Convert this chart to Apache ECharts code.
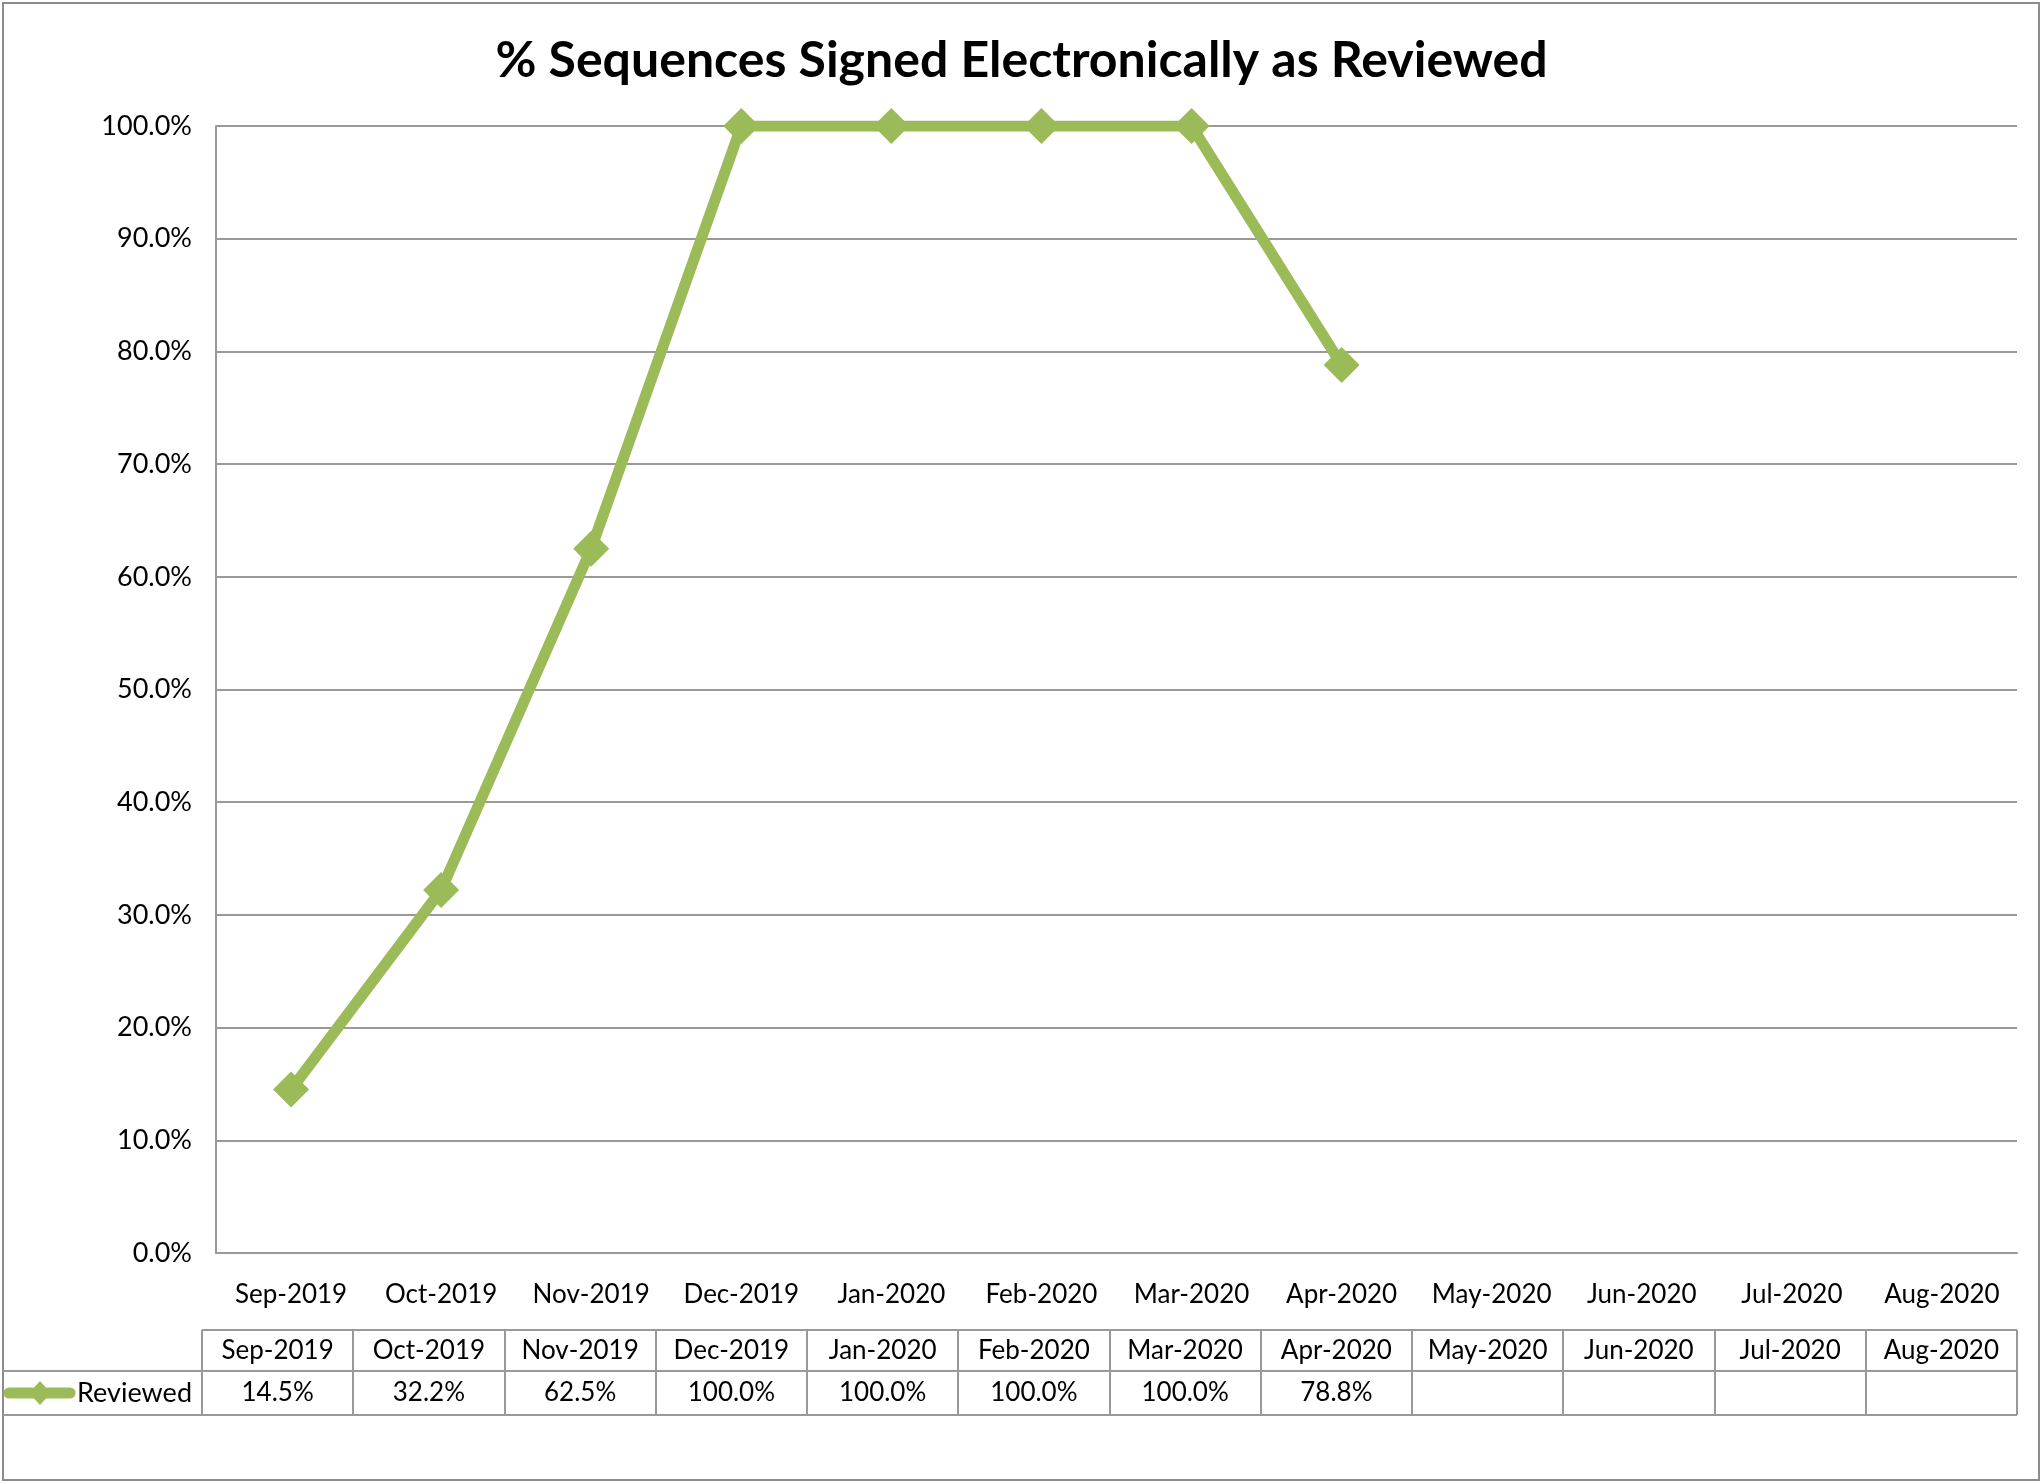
<!DOCTYPE html>
<html>
<head>
<meta charset="utf-8">
<script src="https://cdn.jsdelivr.net/npm/echarts@6/dist/echarts.min.js"></script>
<style>
  html, body { margin: 0; padding: 0; background: #fff; }
  #chart { width: 2043px; height: 1484px; }
</style>
</head>
<body>
<div id="chart"></div>
<script>
var months = ["Sep-2019", "Oct-2019", "Nov-2019", "Dec-2019", "Jan-2020", "Feb-2020",
  "Mar-2020", "Apr-2020", "May-2020", "Jun-2020", "Jul-2020", "Aug-2020"];
var reviewed = [14.5, 32.2, 62.5, 100.0, 100.0, 100.0, 100.0, 78.8, null, null, null, null];
var seriesName = "Reviewed";

var FONT = "Lato";
var GREEN = "#9BBB59";
var GRAY = "#999999";

var myChart = echarts.init(document.getElementById("chart"));

// data table under the chart
var tbl = { left: 202, right: 2017, top: 1330, mid: 1371, bottom: 1415 };
var colW = (tbl.right - tbl.left) / months.length;
var graphics = [];

// outer border
graphics.push({
  type: "rect",
  shape: { x: 3, y: 3, width: 2036, height: 1477 },
  style: { fill: null, stroke: "#8c8c8c", lineWidth: 2 }
});
// horizontal lines
graphics.push({ type: "line", shape: { x1: tbl.left, y1: tbl.top, x2: tbl.right, y2: tbl.top }, style: { stroke: GRAY, lineWidth: 2 } });
graphics.push({ type: "line", shape: { x1: 3, y1: tbl.mid, x2: tbl.right, y2: tbl.mid }, style: { stroke: GRAY, lineWidth: 2 } });
graphics.push({ type: "line", shape: { x1: 3, y1: tbl.bottom, x2: tbl.right, y2: tbl.bottom }, style: { stroke: GRAY, lineWidth: 2 } });
// vertical lines
for (var i = 0; i <= months.length; i++) {
  var x = Math.round(tbl.left + i * colW);
  graphics.push({ type: "line", shape: { x1: x, y1: tbl.top, x2: x, y2: tbl.bottom }, style: { stroke: GRAY, lineWidth: 2 } });
}
// cell texts
for (var j = 0; j < months.length; j++) {
  var cx = tbl.left + (j + 0.5) * colW;
  graphics.push({
    type: "text",
    style: { x: cx, y: (tbl.top + tbl.mid) / 2, text: months[j], fill: "#000", font: "26px " + FONT, textAlign: "center", textVerticalAlign: "middle" }
  });
  if (reviewed[j] != null) {
    graphics.push({
      type: "text",
      style: { x: cx, y: (tbl.mid + tbl.bottom) / 2, text: reviewed[j].toFixed(1) + "%", fill: "#000", font: "26px " + FONT, textAlign: "center", textVerticalAlign: "middle" }
    });
  }
}
// legend key inside the table
var ky = (tbl.mid + tbl.bottom) / 2;
graphics.push({ type: "line", shape: { x1: 9, y1: ky, x2: 70, y2: ky }, style: { stroke: GREEN, lineWidth: 11, lineCap: "round" } });
graphics.push({ type: "polygon", shape: { points: [[40, ky - 12], [51, ky], [40, ky + 12], [29, ky]] }, style: { fill: GREEN } });
graphics.push({
  type: "text",
  style: { x: 192, y: ky, text: seriesName, fill: "#000", font: "27px " + FONT, textAlign: "right", textVerticalAlign: "middle" }
});

myChart.setOption({
  animation: false,
  backgroundColor: "#fff",
  title: {
    text: "% Sequences Signed Electronically as Reviewed",
    left: "center",
    top: 31,
    textStyle: { color: "#000", fontFamily: FONT, fontWeight: "bold", fontSize: 50 }
  },
  grid: { left: 216, right: 26, top: 126, bottom: 231 },
  xAxis: {
    type: "category",
    data: months,
    boundaryGap: true,
    axisLine: { show: true, lineStyle: { color: GRAY, width: 2 } },
    axisTick: { show: false },
    axisLabel: { color: "#000", fontFamily: FONT, fontSize: 26, margin: 29, interval: 0 }
  },
  yAxis: {
    type: "value",
    min: 0,
    max: 100,
    interval: 10,
    axisLine: { show: true, lineStyle: { color: GRAY, width: 2 } },
    axisTick: { show: false },
    splitLine: { show: true, lineStyle: { color: GRAY, width: 2 } },
    axisLabel: {
      color: "#000", fontFamily: FONT, fontSize: 27, margin: 24,
      formatter: function (v) { return v.toFixed(1) + "%"; }
    }
  },
  series: [{
    name: seriesName,
    type: "line",
    data: reviewed,
    symbol: "diamond",
    symbolSize: 36,
    showAllSymbol: true,
    connectNulls: false,
    lineStyle: { color: GREEN, width: 11 },
    itemStyle: { color: GREEN }
  }],
  graphic: graphics
});
</script>
</body>
</html>
